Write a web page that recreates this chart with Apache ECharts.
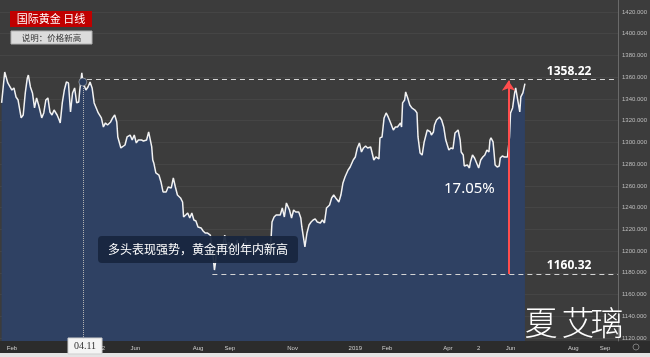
<!DOCTYPE html>
<html><head><meta charset="utf-8">
<script src="https://cdn.jsdelivr.net/npm/echarts@6/dist/echarts.min.js"></script>
<style>html,body{margin:0;padding:0;background:#3d3d3d}#c{width:650px;height:357px}</style>
</head><body><div id="c"></div>
<script>
// ---- data ----
const dates = [
'2018-01-22','2018-01-25','2018-01-28','2018-02-01','2018-02-03','2018-02-05','2018-02-07','2018-02-10','2018-02-12','2018-02-14',
'2018-02-16','2018-02-17','2018-02-19','2018-02-21','2018-02-23','2018-02-25','2018-02-27','2018-03-02','2018-03-04','2018-03-06',
'2018-03-08','2018-03-10','2018-03-12','2018-03-14','2018-03-17','2018-03-19','2018-03-20','2018-03-22','2018-03-24','2018-03-26',
'2018-03-28','2018-03-30','2018-04-01','2018-04-03','2018-04-05','2018-04-07','2018-04-08','2018-04-10','2018-04-11','2018-04-14',
'2018-04-16','2018-04-18','2018-04-20','2018-04-22','2018-04-24','2018-04-26','2018-04-29','2018-05-01','2018-05-03','2018-05-05',
'2018-05-08','2018-05-10','2018-05-12','2018-05-14','2018-05-15','2018-05-18','2018-05-19','2018-05-22','2018-05-24','2018-05-27',
'2018-05-29','2018-05-31','2018-06-02','2018-06-04','2018-06-07','2018-06-09','2018-06-12','2018-06-14','2018-06-17','2018-06-18',
'2018-06-19','2018-06-21','2018-06-24','2018-06-26','2018-06-28','2018-07-01','2018-07-03','2018-07-06','2018-07-08','2018-07-10',
'2018-07-12','2018-07-15','2018-07-17','2018-07-18','2018-07-20','2018-07-22','2018-07-24','2018-07-26','2018-07-28','2018-07-30',
'2018-08-01','2018-08-04','2018-08-06','2018-08-08','2018-08-10','2018-08-13','2018-08-15','2018-08-17','2018-08-18','2018-08-19',
'2018-08-21','2018-08-23','2018-08-24','2018-08-27','2018-08-29','2018-08-31','2018-09-02','2018-09-04','2018-09-06','2018-09-08',
'2018-09-11','2018-09-13','2018-09-15','2018-09-16','2018-09-18','2018-09-20','2018-09-22','2018-09-24','2018-09-26','2018-09-28',
'2018-10-01','2018-10-03','2018-10-05','2018-10-07','2018-10-09','2018-10-11','2018-10-12','2018-10-14','2018-10-16','2018-10-17',
'2018-10-20','2018-10-22','2018-10-24','2018-10-26','2018-10-29','2018-10-31','2018-11-02','2018-11-04','2018-11-07','2018-11-09',
'2018-11-10','2018-11-13','2018-11-15','2018-11-17','2018-11-19','2018-11-21','2018-11-23','2018-11-25','2018-11-28','2018-11-30',
'2018-12-02','2018-12-04','2018-12-07','2018-12-09','2018-12-11','2018-12-13','2018-12-16','2018-12-18','2018-12-20','2018-12-22',
'2018-12-23','2018-12-25','2018-12-27','2018-12-28','2018-12-30','2019-01-01','2019-01-03','2019-01-05','2019-01-07','2019-01-09',
'2019-01-11','2019-01-13','2019-01-16','2019-01-17','2019-01-19','2019-01-21','2019-01-24','2019-01-25','2019-01-27','2019-01-29',
'2019-01-31','2019-02-02','2019-02-04','2019-02-05','2019-02-07','2019-02-09','2019-02-11','2019-02-14','2019-02-15','2019-02-16',
'2019-02-18','2019-02-19','2019-02-21','2019-02-23','2019-02-25','2019-02-28','2019-03-02','2019-03-03','2019-03-05','2019-03-07',
'2019-03-09','2019-03-10','2019-03-12','2019-03-15','2019-03-16','2019-03-18','2019-03-19','2019-03-21','2019-03-24','2019-03-26',
'2019-03-28','2019-03-30','2019-04-02','2019-04-04','2019-04-06','2019-04-08','2019-04-09','2019-04-11','2019-04-13','2019-04-14',
'2019-04-16','2019-04-17','2019-04-20','2019-04-22','2019-04-23','2019-04-25','2019-04-27','2019-04-28','2019-05-01','2019-05-03',
'2019-05-05','2019-05-07','2019-05-09','2019-05-11','2019-05-12','2019-05-13','2019-05-15','2019-05-16','2019-05-17','2019-05-19',
'2019-05-21','2019-05-22','2019-05-24','2019-05-26','2019-05-29','2019-05-31','2019-06-01','2019-06-03','2019-06-05','2019-06-06',
'2019-06-08','2019-06-10','2019-06-11','2019-06-13','2019-06-15'
];
const prices = [
1336.3,1364.8,1354.7,1348.2,1350.1,1341.8,1339.0,1322.5,1325.2,1345.5,
1359.3,1362.0,1351.0,1345.5,1331.7,1340.9,1334.4,1322.5,1327.1,1339.0,
1340.9,1328.0,1325.2,1329.8,1325.2,1320.6,1317.9,1336.3,1348.2,1355.6,
1354.7,1328.0,1345.5,1350.1,1336.3,1337.2,1348.2,1363.9,1355.6,1348.2,
1351.0,1355.6,1350.1,1336.3,1331.7,1327.1,1322.5,1314.2,1317.9,1316.0,
1318.8,1322.5,1325.2,1318.8,1305.0,1294.9,1294.0,1297.6,1305.0,1306.8,
1302.2,1306.8,1299.5,1302.2,1302.2,1301.3,1302.2,1309.6,1295.8,1283.8,
1281.1,1271.9,1270.0,1263.6,1254.4,1254.4,1259.0,1258.1,1267.3,1259.0,
1251.6,1248.9,1245.2,1231.4,1233.2,1235.1,1230.5,1235.1,1228.6,1227.7,
1222.2,1221.3,1218.5,1216.7,1216.7,1214.8,1201.0,1182.6,1189.1,1201.0,
1199.2,1203.8,1198.3,1214.8,1203.8,1208.4,1199.2,1203.8,1198.3,1210.2,
1201.0,1205.6,1199.2,1212.1,1202.9,1208.4,1201.0,1205.6,1201.0,1203.8,
1202.9,1207.5,1199.2,1203.8,1198.3,1210.2,1226.8,1231.4,1233.2,1231.4,
1233.2,1239.7,1231.4,1244.3,1237.8,1230.5,1237.8,1236.0,1236.0,1230.5,
1222.2,1203.8,1216.7,1224.0,1226.8,1228.6,1229.6,1226.8,1225.9,1228.6,
1225.9,1239.7,1242.4,1248.9,1251.6,1248.9,1245.2,1251.6,1262.7,1268.2,
1267.3,1274.6,1277.4,1279.2,1283.8,1286.6,1294.9,1299.5,1291.2,1294.9,
1296.7,1294.9,1295.8,1294.9,1283.8,1286.6,1284.8,1304.1,1305.0,1322.5,
1327.1,1323.4,1318.8,1317.0,1311.4,1314.2,1314.2,1317.9,1314.2,1336.3,
1339.0,1346.4,1340.9,1334.4,1331.7,1329.8,1327.1,1305.0,1290.3,1288.4,
1300.4,1302.2,1311.4,1309.6,1306.8,1309.6,1316.0,1320.6,1323.4,1320.6,
1314.2,1302.2,1293.0,1294.9,1294.0,1308.7,1309.6,1311.4,1302.2,1291.2,
1288.4,1278.3,1279.2,1276.5,1282.0,1288.4,1285.7,1286.6,1276.5,1283.8,
1286.6,1288.4,1293.0,1291.2,1302.2,1304.1,1300.4,1290.3,1279.2,1277.4,
1278.3,1285.7,1287.5,1286.6,1286.6,1305.0,1327.1,1331.7,1345.5,1350.1,
1339.0,1328.0,1341.8,1345.5,1354.15
];
const yTickValues = [1120,1140,1160,1180,1200,1220,1240,1260,1280,1300,1320,1340,1360,1380,1400,1420];
const xTickDates = ['2018-02-01','2018-05-01','2018-06-01','2018-08-01','2018-09-01','2018-11-01','2019-01-01','2019-02-01','2019-04-01','2019-05-01','2019-06-01','2019-08-01','2019-09-01'];
const xTickLabels = ['Feb','2','Jun','Aug','Sep','Nov','2019','Feb','Apr','2','Jun','Aug','Sep'];
const highValue = 1358.22, highText = '1358.22';
const lowLineValue = 1179, lowText = '1160.32';
const gainText = '17.05%';
const lastPrice = 1354.148;
const markDate = '2018-04-11', markValue = 1355.6, markText = '04.11';

// ---- helpers ----
function t(s){const p=s.split('-').map(Number);return new Date(p[0],p[1]-1,p[2]).getTime();}
const H = 3600e3;
const xMin = t('2018-01-20') + 10*H, xMax = t('2019-09-13') + 12*H;
const yMin = 1117.3, yMax = 1431.0;
const xTickTimes = xTickDates.map(t);
const labelMap = {}; xTickTimes.forEach((v,i)=>{labelMap[v] = xTickLabels[i];});
const seriesData = dates.map((d,i)=>[t(d), prices[i]]);

const chart = echarts.init(document.getElementById('c'), null, {renderer:'canvas'});
const dash = {type:[5,4], color:'#d4d4d4', width:1};
const wm = '300 33px "Noto Sans CJK SC"';
chart.setOption({
  animation:false,
  backgroundColor:'#3c3c3c',
  grid:{left:0,right:29,top:0,bottom:16,containLabel:false},
  xAxis:{
    type:'value', min:xMin, max:xMax, z:10,
    axisLine:{show:false}, axisTick:{show:false, customValues:xTickTimes},
    splitLine:{show:false},
    axisLabel:{customValues:xTickTimes, formatter:(v)=>labelMap[v]||'', color:'#cfcfcf', fontSize:6, margin:4, fontFamily:'Liberation Sans', showMinLabel:true, showMaxLabel:true}
  },
  yAxis:{
    type:'value', position:'right', min:yMin, max:yMax,
    axisLine:{show:true, lineStyle:{color:'#6a6a6a', width:1}},
    axisTick:{show:false, customValues:yTickValues},
    splitLine:{show:true, lineStyle:{color:'rgba(255,255,255,0.05)'}},
    axisLabel:{customValues:yTickValues, formatter:(v)=>v.toFixed(3), color:'#bdbdbd', fontSize:6, margin:4, fontFamily:'Liberation Sans'}
  },
  graphic:[
    {type:'rect', z:0, shape:{x:0,y:341,width:650,height:12}, style:{fill:'#2c2c2c'}, silent:true},
    {type:'rect', z:0, shape:{x:0,y:353,width:650,height:4}, style:{fill:'#e4e4e4'}, silent:true},
    {type:'circle', z:50, shape:{cx:636,cy:347,r:3}, style:{fill:'none', stroke:'#7a7a7a', lineWidth:1}},
    {type:'rect', z:50, shape:{x:10,y:11,width:82,height:16}, style:{fill:'#c00000'}},
    {type:'text', z:51, x:51, y:19, style:{text:'国际黄金 日线', fill:'#ffffff', font:'11px "Noto Sans CJK SC"', textAlign:'center', textVerticalAlign:'middle'}},
    {type:'rect', z:50, shape:{x:11,y:31,width:81,height:13}, style:{fill:'#dcdcdc', stroke:'#b0b0b0', lineWidth:1}},
    {type:'text', z:51, x:51.5, y:37.5, style:{text:'说明：价格新高', fill:'#333333', font:'8.5px "Noto Sans CJK SC"', textAlign:'center', textVerticalAlign:'middle'}},
    {type:'rect', z:50, shape:{x:98,y:236,width:200,height:27,r:4}, style:{fill:'rgba(24,38,62,0.93)'}},
    {type:'text', z:51, x:198, y:249.5, style:{text:'多头表现强势，黄金再创年内新高', fill:'#ffffff', font:'12px "Noto Sans CJK SC"', textAlign:'center', textVerticalAlign:'middle'}},
    {type:'rect', z:50, shape:{x:68,y:338,width:34,height:16}, style:{fill:'#f4f4f4', stroke:'#cfcfcf', lineWidth:1}},
    {type:'text', z:51, x:85, y:346, style:{text:markText, fill:'#333333', font:'10px "Liberation Serif"', textAlign:'center', textVerticalAlign:'middle'}},
    {type:'text', z:51, x:541, y:322, style:{text:'夏', fill:'#ffffff', font:wm, textAlign:'center', textVerticalAlign:'middle'}},
    {type:'text', z:51, x:578, y:322, style:{text:'艾', fill:'#ffffff', font:wm, textAlign:'center', textVerticalAlign:'middle'}},
    {type:'text', z:51, x:607, y:322, style:{text:'璃', fill:'#ffffff', font:wm, textAlign:'center', textVerticalAlign:'middle'}}
  ],
  series:[{
    type:'line', data:seriesData, showSymbol:false, symbol:'none', z:3,
    lineStyle:{color:'#f2f2f2', width:1.5},
    areaStyle:{color:'#2f4163', opacity:1},
    markLine:{
      silent:true, symbol:'none', animation:false,
      label:{show:false},
      data:[
        [{coord:[t('2018-04-15'), highValue], lineStyle:dash}, {coord:[xMax, highValue]}],
        [{coord:[t('2018-08-15'), lowLineValue], lineStyle:dash}, {coord:[xMax, lowLineValue]}],
        [{coord:[t(markDate), markValue], lineStyle:{type:'dotted', color:'#b5b5b5', width:1}}, {coord:[t(markDate), yMin]}],
        [{coord:[t('2019-05-30'), lowLineValue], symbol:'none', lineStyle:{color:'#ff4d4d', width:2, type:'solid'}}, {coord:[t('2019-05-30'), highValue-1.5], symbol:'arrow', symbolSize:[10,10]}],
        [{coord:[xMax, lastPrice], lineStyle:{opacity:0}, label:{show:true, position:'end', formatter:String(lastPrice), backgroundColor:'#ffffff', color:'#333', fontSize:6, padding:[1,2], distance:1, fontFamily:'Liberation Sans'}}, {coord:[xMax, lastPrice]}]
      ]
    },
    markPoint:{
      silent:true, animation:false,
      data:[
        {coord:[t(markDate), markValue], symbol:'circle', symbolSize:8, itemStyle:{color:'#2b3d5c', borderColor:'#d8d8d8', borderWidth:0.5}, label:{show:false}},
        {coord:[t('2019-07-28'), highValue], symbol:'circle', symbolSize:0, label:{show:true, position:'top', distance:2, formatter:highText, color:'#ffffff', fontSize:12, fontWeight:'bold', fontFamily:'Noto Sans'}},
        {coord:[t('2019-07-28'), lowLineValue], symbol:'circle', symbolSize:0, label:{show:true, position:'top', distance:2, formatter:lowText, color:'#ffffff', fontSize:12, fontWeight:'bold', fontFamily:'Noto Sans'}},
        {coord:[t('2019-04-22'), 1257.2], symbol:'circle', symbolSize:0, label:{show:true, position:'inside', formatter:gainText, color:'#ffffff', fontSize:15, fontFamily:'Noto Sans'}}
      ]
    }
  }]
});
</script>
</body></html>
